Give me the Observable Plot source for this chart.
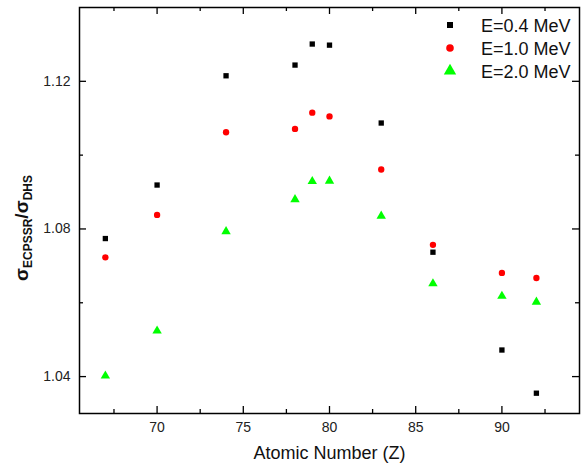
<!DOCTYPE html>
<html>
<head>
<meta charset="utf-8">
<script src="https://cdn.jsdelivr.net/npm/d3@7"></script>
<script src="https://cdn.jsdelivr.net/npm/@observablehq/plot@0.6"></script>
<style>
  html, body { margin: 0; padding: 0; background: #fff; }
  #chart { width: 581px; height: 471px; }
  svg { font-family: "Liberation Sans", Arial, sans-serif; }
</style>
</head>
<body>
<div id="chart"></div>
<script>
// ---- data ----
const atomicNumbers = [67, 70, 74, 78, 79, 80, 83, 86, 90, 92];
const e04 = [1.0774, 1.0919, 1.1215, 1.1244, 1.1301, 1.1298, 1.1087, 1.0737, 1.0472, 1.0355];
const e10 = [1.0723, 1.0838, 1.1062, 1.1071, 1.1115, 1.1105, 1.0961, 1.0757, 1.0681, 1.0667];
const e20 = [1.0402, 1.0524, 1.0793, 1.0880, 1.0929, 1.0930, 1.0835, 1.0652, 1.0618, 1.0602];
const seriesNames = ["E=0.4 MeV", "E=1.0 MeV", "E=2.0 MeV"];
const seriesColors = ["#000000", "#ff0000", "#00ff00"];
const seriesSymbols = ["square", "circle", "triangle"];
const xMajor = [70, 75, 80, 85, 90];
const xMinor = [67.5, 72.5, 77.5, 82.5, 87.5, 92.5];
const yMajor = [1.04, 1.08, 1.12];
const yMinor = [1.06, 1.10];
const xTitle = "Atomic Number (Z)";

const W = 581, H = 471;
const mL = 79, mR = 2, mT = 7, mB = 58;
const innerW = W - mL - mR, innerH = H - mT - mB;
const font = "Liberation Sans, Arial, sans-serif";

const rows = [];
[e04, e10, e20].forEach((vals, s) => {
  vals.forEach((v, i) => rows.push({z: atomicNumbers[i], v, s}));
});

const majT = 7, minT = 4;
const plot = Plot.plot({
  width: W, height: H,
  marginLeft: mL, marginRight: mR, marginTop: mT, marginBottom: mB,
  style: {fontFamily: font, background: "#fff"},
  x: {domain: [65.5, 94.5]},
  y: {domain: [1.03, 1.14]},
  marks: [
    // inward ticks
    Plot.tickX(xMajor, {x: d => d, insetTop: innerH - majT, stroke: "black", strokeWidth: 1.3}),
    Plot.tickX(xMajor, {x: d => d, insetBottom: innerH - majT, stroke: "black", strokeWidth: 1.3}),
    Plot.tickX(xMinor, {x: d => d, insetTop: innerH - minT, stroke: "black", strokeWidth: 1.3}),
    Plot.tickX(xMinor, {x: d => d, insetBottom: innerH - minT, stroke: "black", strokeWidth: 1.3}),
    Plot.tickY(yMajor, {y: d => d, insetRight: innerW - majT, stroke: "black", strokeWidth: 1.3}),
    Plot.tickY(yMajor, {y: d => d, insetLeft: innerW - majT, stroke: "black", strokeWidth: 1.3}),
    Plot.tickY(yMinor, {y: d => d, insetRight: innerW - minT, stroke: "black", strokeWidth: 1.3}),
    Plot.tickY(yMinor, {y: d => d, insetLeft: innerW - minT, stroke: "black", strokeWidth: 1.3}),
    Plot.axisX({ticks: xMajor, tickSize: 0, tickPadding: 9, fontSize: 14, tickFormat: d => String(d), label: null, fill: "#222"}),
    Plot.axisY({ticks: yMajor, tickSize: 0, tickPadding: 9, fontSize: 14, tickFormat: d => d.toFixed(2), label: null, fill: "#222"}),
    Plot.frame({stroke: "black", strokeWidth: 1.5}),
    Plot.dot(rows, {
      x: "z", y: "v",
      symbol: d => seriesSymbols[d.s],
      fill: d => seriesColors[d.s],
      r: d => [3.4, 3.8, 4.6][d.s],
      stroke: "none"
    }),
    Plot.text([xTitle], {frameAnchor: "bottom", dy: 45, fontSize: 18, fill: "#111"})
  ]
});
plot.setAttribute("font-family", font);
document.getElementById("chart").appendChild(plot);

const svg = d3.select(plot);
// Y-axis title with subscripts
const yt = svg.append("text")
  .attr("transform", "translate(28,228) rotate(-90)")
  .attr("text-anchor", "middle")
  .attr("font-weight", "bold")
  .attr("font-family", font)
  .attr("fill", "#111");
yt.append("tspan").attr("font-size", 19).text("σ");
yt.append("tspan").attr("font-size", 12).attr("dy", 4).text("ECPSSR");
yt.append("tspan").attr("font-size", 19).attr("dy", -4).text("/");
yt.append("tspan").attr("font-size", 19).text("σ");
yt.append("tspan").attr("font-size", 12).attr("dy", 4).text("DHS");

// Legend
const legendY = [25, 48, 71];
const legR = [3.4, 3.8, 4.6];
const symMap = {square: d3.symbolSquare, circle: d3.symbolCircle, triangle: d3.symbolTriangle};
seriesNames.forEach((name, i) => {
  svg.append("path")
    .attr("transform", `translate(450,${legendY[i]})`)
    .attr("d", d3.symbol(symMap[seriesSymbols[i]], legR[i] * legR[i] * Math.PI)())
    .attr("fill", seriesColors[i]);
  svg.append("text")
    .attr("x", 481).attr("y", legendY[i] + 6.5)
    .attr("text-anchor", "start")
    .attr("font-size", 18)
    .attr("font-family", font)
    .attr("fill", "#111")
    .text(name);
});
</script>
</body>
</html>
